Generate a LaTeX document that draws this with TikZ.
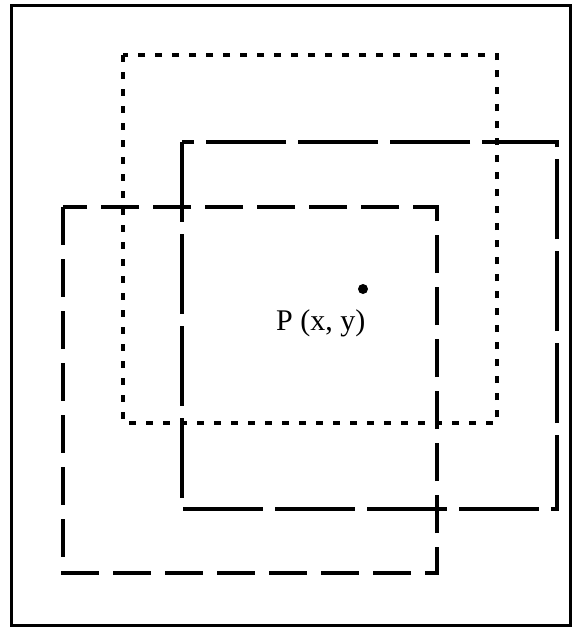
\documentclass[tikz,border=0pt]{standalone}
\usepackage{fontspec}
\setmainfont{Liberation Serif}
\usetikzlibrary{positioning}

\begin{document}
\begin{tikzpicture}[x=0.5pt, y=-0.5pt,
        winline/.style={line width=1.6pt, line cap=butt},
        dotwin/.style={winline, dash pattern=on 3.5pt off 5pt},
        longwin/.style={winline, dash pattern=on 40pt off 6pt},
        midwin/.style={winline, dash pattern=on 19pt off 7pt}]
        \useasboundingbox (0,0) rectangle (574,628);
        % Frame
        \draw[line width=1.5pt] (11,5) rectangle (570,625);

        % Windows
        \draw[dotwin] (123,55) rectangle (497,423);
        \draw[longwin] (182,142) rectangle (557,509);
        \draw[midwin] (63,207) rectangle (437,573);

        % Point
        \node[circle, fill=black, inner sep=0pt, minimum size=5pt] (pointP) at (363,289) {};
        \node[font=\fontsize{15}{18}\selectfont, inner sep=0pt, below left=8pt and -3.25pt of pointP] (plabel) {P (x, y)};
    \end{tikzpicture}
\end{document}
